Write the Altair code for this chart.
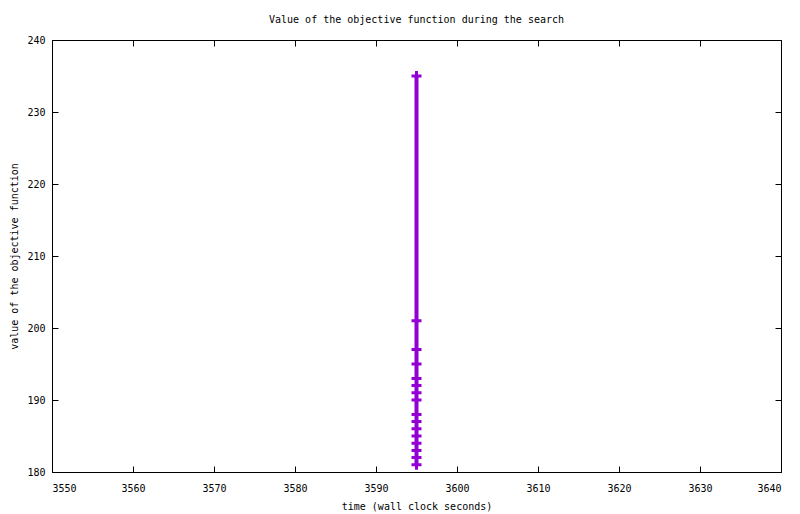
import altair as alt
import pandas as pd

# data
times = [3595] * 16
values = [235, 201, 197, 195, 193, 192, 191, 190, 188, 187, 186, 185, 184, 183, 182, 181]
x_ticks = list(range(3550, 3641, 10))
y_ticks = list(range(180, 241, 10))

df = pd.DataFrame({"time": times, "value": values})

FONT = "DejaVu Sans Mono"
COLOR = "#9400D3"
TICK = 6

xscale = alt.Scale(domain=[3550, 3640], nice=False, zero=False)
yscale = alt.Scale(domain=[180, 240], nice=False, zero=False)

base = alt.Chart(df)

# layer 1: line with labelled axes
line = base.mark_line(color=COLOR, strokeWidth=4).encode(
    x=alt.X("time:Q", scale=xscale, axis=alt.Axis(
        values=x_ticks, format="d", tickSize=0, domain=False, grid=False,
        labelFont=FONT, labelFontSize=10, labelPadding=11, labelColor="black",
        title="time (wall clock seconds)", titleFont=FONT, titleFontSize=10,
        titleFontWeight="normal", titleColor="black", titlePadding=8)),
    y=alt.Y("value:Q", scale=yscale, axis=alt.Axis(
        values=y_ticks, format="d", tickSize=0, domain=False, grid=False,
        labelFont=FONT, labelFontSize=10, labelPadding=7, labelColor="black",
        title="value of the objective function", titleFont=FONT, titleFontSize=10,
        titleFontWeight="normal", titleColor="black", titlePadding=7)),
    order=alt.Order("value:Q"),
)

# layer 2: plus markers with inward ticks on bottom / left
points = base.mark_point(
    shape="M-1,0H1M0,-1V1", size=100, strokeWidth=3, color=COLOR,
    filled=False, opacity=1).encode(
    x=alt.X("time:Q", scale=xscale, axis=alt.Axis(
        values=x_ticks, orient="bottom", offset=-TICK, tickSize=TICK,
        tickColor="black", labels=False, domain=False, grid=False, title="")),
    y=alt.Y("value:Q", scale=yscale, axis=alt.Axis(
        values=y_ticks, orient="left", offset=-TICK, tickSize=TICK,
        tickColor="black", labels=False, domain=False, grid=False, title="")),
)

# layer 3: invisible copy carrying mirrored inward ticks on top / right
mirror = base.mark_point(opacity=0).encode(
    x=alt.X("time:Q", scale=xscale, axis=alt.Axis(
        values=x_ticks, orient="top", offset=-TICK, tickSize=TICK,
        tickColor="black", labels=False, domain=False, grid=False, title="")),
    y=alt.Y("value:Q", scale=yscale, axis=alt.Axis(
        values=y_ticks, orient="right", offset=-TICK, tickSize=TICK,
        tickColor="black", labels=False, domain=False, grid=False, title="")),
)

chart = alt.layer(line, points, mirror).resolve_axis(
    x="independent", y="independent"
).properties(
    width=729,
    height=432,
    title=alt.Title("Value of the objective function during the search",
                    font=FONT, fontSize=10, fontWeight="normal", color="black",
                    anchor="middle", offset=10),
    autosize=alt.AutoSizeParams(type="none"),
    padding={"left": 44, "top": 32, "right": 11, "bottom": 42},
).configure(
    background="white",
    view=alt.ViewConfig(stroke="black", strokeWidth=1),
)

chart.save("out.html", embed_options={"renderer": "svg", "actions": False})
